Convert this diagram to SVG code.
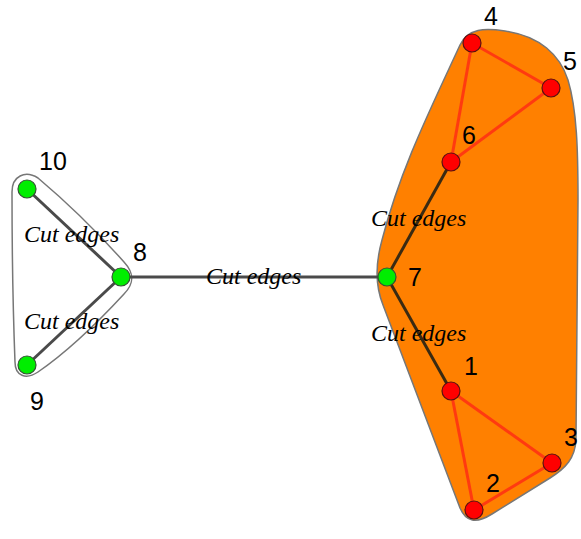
<svg xmlns="http://www.w3.org/2000/svg" width="581" height="539" viewBox="0 0 581 539">
<style>
.num{font-family:"Liberation Sans",Arial,sans-serif;font-size:25px;fill:#000}
.cut{font-family:"Liberation Serif","Times New Roman",serif;font-style:italic;font-size:24px;fill:#000}
.ce{stroke:#4a4a4a;stroke-width:3;fill:none}
.cein{stroke:#3a2a12;stroke-width:3;fill:none}
.re{stroke:#ff3a10;stroke-width:3;fill:none}
.rn{fill:#ff0000;stroke:#5a1010;stroke-width:1.2}
.gn{fill:#00ee00;stroke:#335533;stroke-width:1.2}
</style>
<g id="hulls">
<path d="M 460,45 C 468,28 485,28 505,31 C 540,36 560,55 568,80 C 577,110 578,150 578,200 L 576,440 C 575,458 566,468 550,478 L 492,514 C 476,524 466,522 460,508 L 383,305 C 375,285 375,265 382,240 C 400,170 430,110 460,45 Z" fill="#ff8000" stroke="#777" stroke-width="1.5"/>
<path d="M 12,192 C 12,176 25,170 38,178 C 70,205 100,235 124,262 C 135,274 134,284 124,294 C 100,320 70,350 38,372 C 26,380 15,376 15,362 C 13,310 12,250 12,192 Z" fill="none" stroke="#777" stroke-width="1.5"/>
</g>
<g id="connectors">
<line class="ce" x1="27" y1="189" x2="121" y2="277"/>
<line class="ce" x1="27" y1="365" x2="121" y2="277"/>
<line class="ce" x1="121" y1="277" x2="387" y2="277"/>
<line class="cein" x1="387" y1="277" x2="451" y2="162"/>
<line class="cein" x1="387" y1="277" x2="451" y2="391"/>
<line class="re" x1="451" y1="162" x2="472" y2="43"/>
<line class="re" x1="472" y1="43" x2="551" y2="88"/>
<line class="re" x1="551" y1="88" x2="451" y2="162"/>
<line class="re" x1="451" y1="391" x2="552" y2="463"/>
<line class="re" x1="552" y1="463" x2="474" y2="510"/>
<line class="re" x1="474" y1="510" x2="451" y2="391"/>
</g>
<g id="edge-labels">
<text class="cut" x="24" y="242">Cut edges</text>
<text class="cut" x="24" y="329">Cut edges</text>
<text class="cut" x="206" y="284">Cut edges</text>
<text class="cut" x="371" y="226">Cut edges</text>
<text class="cut" x="371" y="341">Cut edges</text>
</g>
<g id="n1"><circle class="rn" cx="451" cy="391" r="9"/><text class="num" x="464" y="375">1</text></g>
<g id="n2"><circle class="rn" cx="474" cy="510" r="9"/><text class="num" x="486" y="492">2</text></g>
<g id="n3"><circle class="rn" cx="552" cy="463" r="9"/><text class="num" x="564" y="446">3</text></g>
<g id="n4"><circle class="rn" cx="472" cy="43" r="9"/><text class="num" x="484" y="25">4</text></g>
<g id="n5"><circle class="rn" cx="551" cy="88" r="9"/><text class="num" x="563" y="70">5</text></g>
<g id="n6"><circle class="rn" cx="451" cy="162" r="9"/><text class="num" x="462" y="144">6</text></g>
<g id="n7"><circle class="gn" cx="387" cy="277" r="9"/><text class="num" x="408" y="286">7</text></g>
<g id="n8"><circle class="gn" cx="121" cy="277" r="9"/><text class="num" x="133" y="261">8</text></g>
<g id="n9"><circle class="gn" cx="27" cy="365" r="9"/><text class="num" x="30" y="410">9</text></g>
<g id="n10"><circle class="gn" cx="27" cy="189" r="9"/><text class="num" x="39" y="170">10</text></g>
</svg>
